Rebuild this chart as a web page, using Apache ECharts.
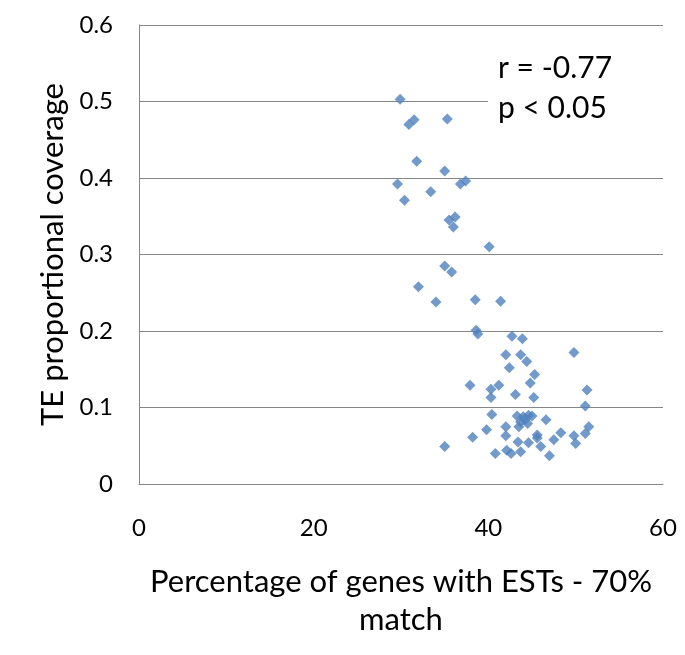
<!DOCTYPE html>
<html>
<head>
<meta charset="utf-8">
<script src="https://cdn.jsdelivr.net/npm/echarts@6/dist/echarts.min.js"></script>
<style>
html,body{margin:0;padding:0;background:#fff;}
#chart{width:685px;height:655px;}
</style>
</head>
<body>
<div id="chart"></div>
<script>
// Percentage of genes with ESTs (x) and TE proportional coverage (y)
const xValues = [
  29.9, 30.9, 31.5, 35.3, 31.8, 35.0, 29.6, 33.4, 36.8, 37.4,
  30.4, 35.5, 36.2, 36.0, 40.1, 35.0, 35.8, 32.0, 34.0, 38.5,
  41.4, 38.6, 38.8, 42.7, 43.9, 49.8, 42.0, 43.7, 44.4, 42.4,
  45.3, 37.9, 40.3, 40.3, 41.2, 44.8, 43.1, 45.2, 40.4, 43.3,
  44.0, 44.6, 45.0, 43.7, 44.2, 43.5, 44.5, 42.0, 46.6, 39.8,
  38.2, 42.0, 45.6, 45.6, 48.3, 49.8, 47.5, 50.0, 43.4, 44.6,
  46.0, 35.0, 40.8, 42.1, 42.6, 43.7, 47.0, 51.3, 51.1, 51.5,
  51.1
];
const yValues = [
  0.503, 0.470, 0.476, 0.477, 0.422, 0.409, 0.392, 0.382, 0.392, 0.396,
  0.371, 0.345, 0.349, 0.336, 0.310, 0.285, 0.277, 0.258, 0.238, 0.241,
  0.239, 0.201, 0.196, 0.193, 0.190, 0.172, 0.169, 0.169, 0.160, 0.152,
  0.143, 0.129, 0.124, 0.113, 0.129, 0.132, 0.117, 0.113, 0.091, 0.089,
  0.088, 0.090, 0.089, 0.081, 0.084, 0.075, 0.079, 0.075, 0.084, 0.071,
  0.061, 0.063, 0.064, 0.060, 0.067, 0.063, 0.058, 0.053, 0.055, 0.054,
  0.049, 0.049, 0.040, 0.044, 0.040, 0.042, 0.037, 0.123, 0.102, 0.075,
  0.066
];
const xTitle = 'Percentage of genes with ESTs - 70%\nmatch';
const yTitle = 'TE proportional coverage';
const statsLines = ['r = -0.77', 'p < 0.05'];

const points = xValues.map((x, i) => [x, yValues[i]]);
const FONT = 'Lato, "Open Sans", sans-serif';

const chart = echarts.init(document.getElementById('chart'), null, {renderer: 'canvas'});
chart.setOption({
  backgroundColor: '#ffffff',
  animation: false,
  grid: {left: 139, right: 22, top: 25, bottom: 171, containLabel: false},
  xAxis: {
    type: 'value', min: 0, max: 60, interval: 20,
    name: xTitle, nameLocation: 'middle', nameGap: 79,
    nameTextStyle: {fontFamily: FONT, fontSize: 31, color: '#000', lineHeight: 38},
    axisLine: {show: true, lineStyle: {color: '#868686', width: 1}},
    axisTick: {show: false},
    splitLine: {show: false},
    axisLabel: {fontFamily: FONT, fontSize: 24, color: '#000', margin: 32}
  },
  yAxis: {
    type: 'value', min: 0, max: 0.6, interval: 0.1,
    name: yTitle, nameLocation: 'middle', nameGap: 69,
    nameTextStyle: {fontFamily: FONT, fontSize: 31, color: '#000'},
    axisLine: {show: true, lineStyle: {color: '#868686', width: 1}},
    axisTick: {show: false},
    splitLine: {show: true, lineStyle: {color: '#868686', width: 1}},
    axisLabel: {fontFamily: FONT, fontSize: 24, color: '#000', margin: 26}
  },
  graphic: [
    {type: 'rect', left: 488, top: 42, shape: {width: 177, height: 90}, style: {fill: '#ffffff'}, z: 10},
    {type: 'text', left: 498, top: 48, z: 11,
      style: {text: statsLines.join('\n'), fontFamily: FONT, fontSize: 30, fill: '#000', lineHeight: 40}}
  ],
  series: [{
    type: 'scatter',
    symbol: 'diamond',
    symbolSize: 11,
    itemStyle: {color: '#4F81BD'},
    data: points
  }]
});
</script>
</body>
</html>
